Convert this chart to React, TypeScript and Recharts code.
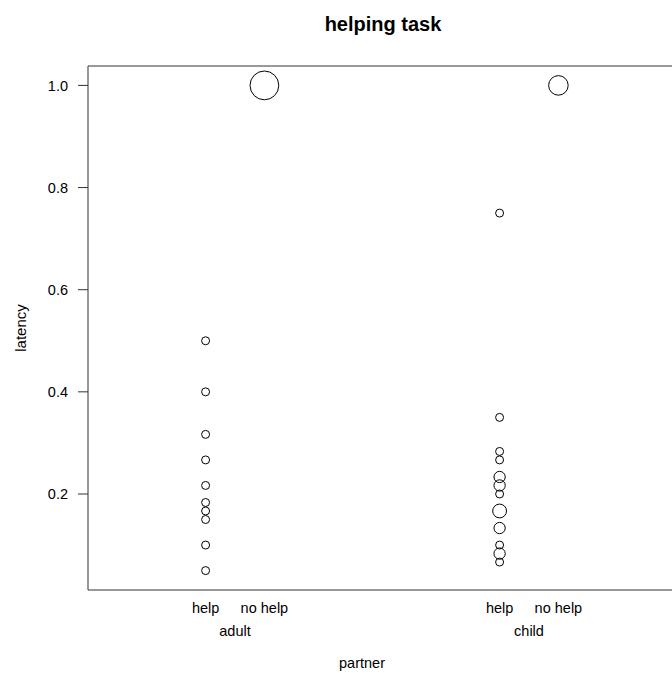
import { ScatterChart, Scatter, XAxis, YAxis, ZAxis, Label } from "recharts";

const partners = ["adult", "child"];
const helpLevels = ["help", "no help"];
const yTicks = [0.2, 0.4, 0.6, 0.8, 1.0];

// latency of each child, and how many children share that value
const adultHelpLatency = [0.5, 0.4, 0.3167, 0.2667, 0.2167, 0.1833, 0.1667, 0.15, 0.1, 0.05];
const adultHelpCount = [1, 1, 1, 1, 1, 1, 1, 1, 1, 1];
const adultNoHelpLatency = [1.0];
const adultNoHelpCount = [13];
const childHelpLatency = [0.75, 0.35, 0.2833, 0.2667, 0.2333, 0.2167, 0.2, 0.1667, 0.1333, 0.1, 0.0833, 0.0667];
const childHelpCount = [1, 1, 1, 1, 2, 2, 1, 3, 2, 1, 2, 1];
const childNoHelpLatency = [1.0];
const childNoHelpCount = [6];

const SHIFT = 0.1; // help / no help side by side within each partner
const pos = (p: number, h: number) => p + 1 + (h === 0 ? -SHIFT : SHIFT);

const points = (p: number, h: number, lat: number[], cnt: number[]) =>
  lat.map((y, i) => ({ x: pos(p, h), y, n: cnt[i] }));

const series = [
  points(0, 0, adultHelpLatency, adultHelpCount),
  points(0, 1, adultNoHelpLatency, adultNoHelpCount),
  points(1, 0, childHelpLatency, childHelpCount),
  points(1, 1, childNoHelpLatency, childNoHelpCount),
];
const allPoints = series.flat();

const condTicks = partners.flatMap((_, p) => helpLevels.map((_, h) => pos(p, h)));
const condLabels = partners.flatMap(() => helpLevels);
const partnerTicks = partners.map((_, p) => p + 1);

const xDomain = [0.5, 2.5];
const yDomain = [0.012, 1.038];
const font = '"Liberation Sans", Arial, Helvetica, sans-serif';
const tickStyle = { fill: "#000", fontSize: 14.5, fontFamily: font };
const AREA = 50; // px² per child

const Nothing = () => <g />;

function YTitle({ viewBox }: any) {
  const cx = 20;
  const cy = viewBox.y + viewBox.height / 2;
  return (
    <text
      x={cx}
      y={cy}
      transform={`rotate(-90 ${cx} ${cy})`}
      textAnchor="middle"
      dominantBaseline="central"
      fontSize={15}
      fontFamily={font}
      fill="#000"
    >
      latency
    </text>
  );
}

export default function App() {
  return (
    <div style={{ position: "relative", width: 672, height: 673, overflow: "hidden", background: "#fff" }}>
      <style>{"body{margin:0;overflow:hidden}"}</style>
      <div
        style={{
          position: "absolute",
          left: 0,
          top: 14,
          width: 766,
          textAlign: "center",
          fontFamily: font,
          fontWeight: "bold",
          fontSize: 20,
          lineHeight: "20px",
          color: "#000",
        }}
      >
        helping task
      </div>
      <ScatterChart width={690} height={673} margin={{ top: 65, right: 14, bottom: 0, left: 0 }}>
        <XAxis
          xAxisId="top"
          orientation="top"
          type="number"
          dataKey="x"
          domain={xDomain}
          allowDataOverflow
          height={1}
          tick={false}
          tickLine={false}
          stroke="#333"
        />
        <XAxis
          xAxisId="cond"
          type="number"
          dataKey="x"
          domain={xDomain}
          allowDataOverflow
          ticks={condTicks}
          interval={0}
          tickFormatter={(_v: number, i: number) => condLabels[i]}
          tickLine={false}
          tickSize={0}
          tickMargin={13}
          height={30}
          stroke="#333"
          tick={tickStyle}
        />
        <XAxis
          xAxisId="partner"
          type="number"
          dataKey="x"
          domain={xDomain}
          allowDataOverflow
          ticks={partnerTicks}
          interval={0}
          tickFormatter={(_v: number, i: number) => partners[i]}
          axisLine={false}
          tickLine={false}
          tickSize={0}
          tickMargin={6}
          height={53}
          tick={tickStyle}
        >
          <Label value="partner" position="insideBottom" offset={5} dx={-20} fill="#000" fontSize={14.5} fontFamily={font} />
        </XAxis>
        <YAxis
          type="number"
          dataKey="y"
          domain={yDomain}
          allowDataOverflow
          ticks={yTicks}
          tickFormatter={(v: number) => v.toFixed(1)}
          width={88}
          tickSize={10}
          tickMargin={10}
          stroke="#333"
          tick={tickStyle}
          label={<YTitle />}
        />
        <ZAxis dataKey="n" type="number" domain={[0, 13]} range={[0, 13 * AREA]} />
        {series.map((s, i) => (
          <Scatter
            key={i}
            data={s}
            xAxisId="cond"
            shape="circle"
            fill="none"
            stroke="#000"
            strokeWidth={1}
            isAnimationActive={false}
          />
        ))}
        {/* unseen copies so the frame and partner axes get drawn */}
        <Scatter data={allPoints} xAxisId="top" shape={<Nothing />} isAnimationActive={false} />
        <Scatter data={allPoints} xAxisId="partner" shape={<Nothing />} isAnimationActive={false} />
      </ScatterChart>
    </div>
  );
}
